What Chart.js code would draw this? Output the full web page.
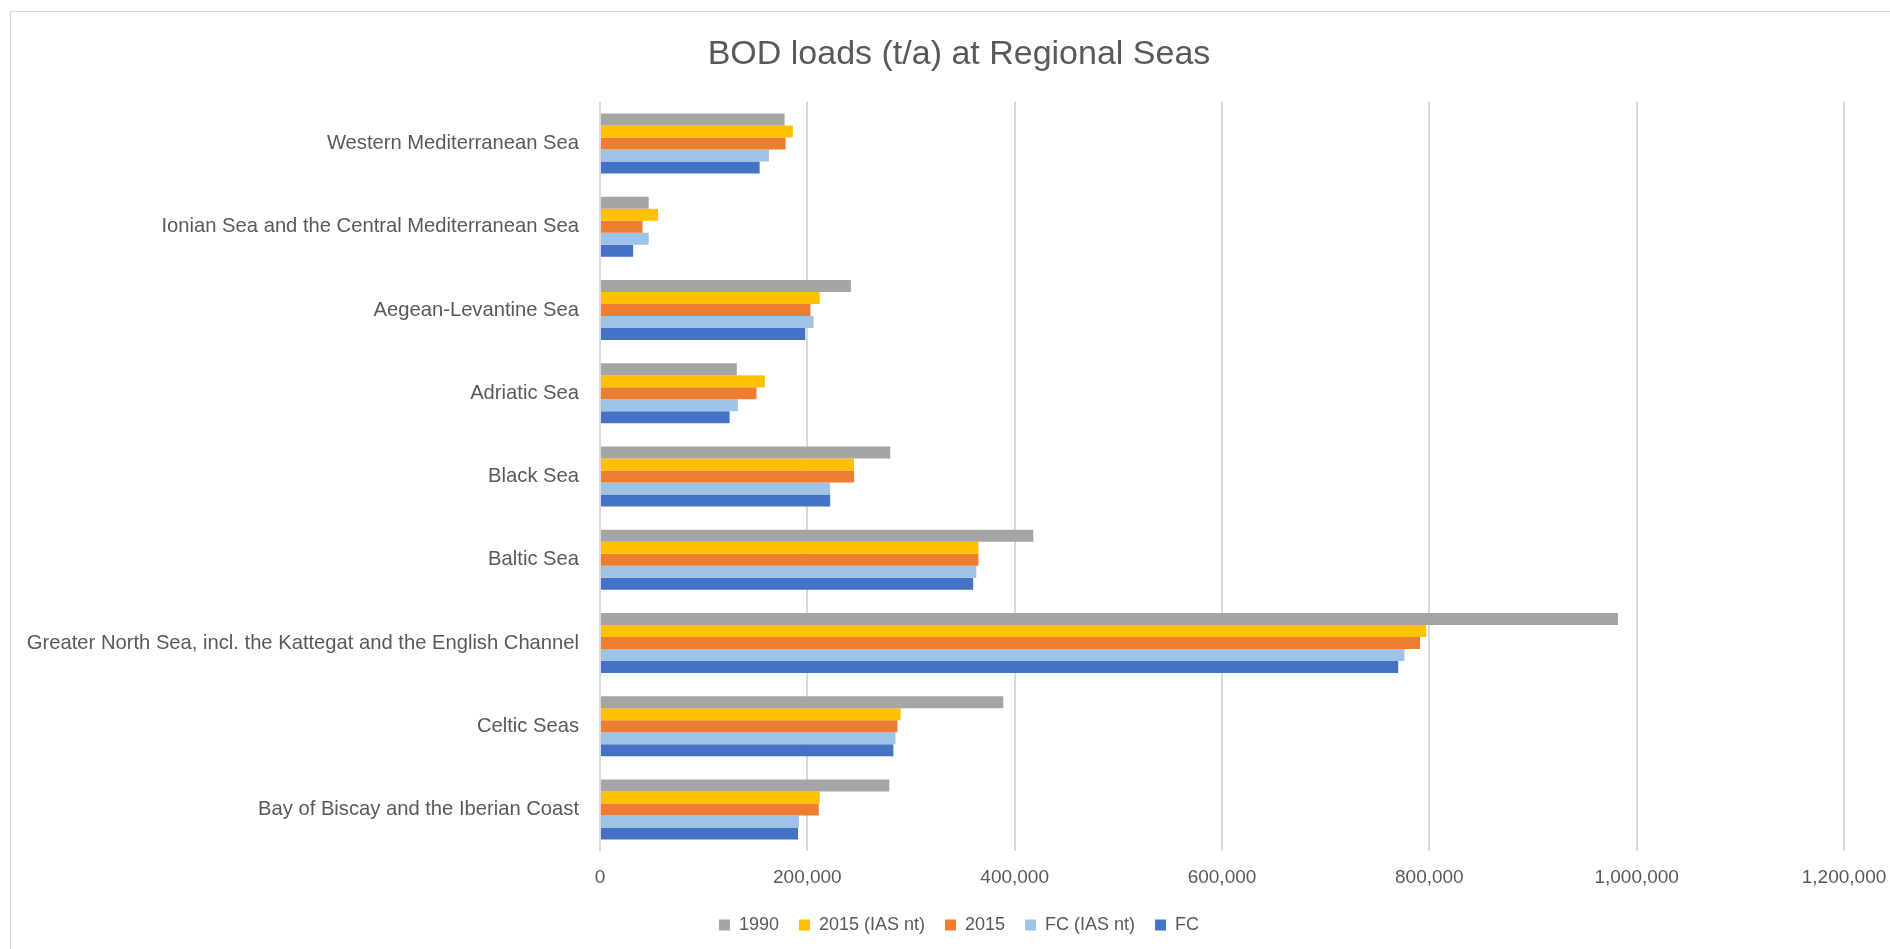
<!DOCTYPE html>
<html>
<head>
<meta charset="utf-8">
<title>BOD loads (t/a) at Regional Seas</title>
<script src="https://cdn.jsdelivr.net/npm/chart.js@4.4.0/dist/chart.umd.min.js"></script>
<style>
    html, body { margin: 0; padding: 0; background: #ffffff; overflow: hidden; }
    #frame {
        position: absolute;
        left: 10px;
        top: 11px;
        width: 1910px;
        height: 970px;
        border: 1.5px solid #d9d9d9;
        box-shadow: 0 1px 2px rgba(0, 0, 0, 0.08);
    }
    #bod-chart { position: absolute; left: 0; top: 0; }
</style>
</head>
<body>
<div id="frame">
    <canvas id="bod-chart" width="1894" height="952"></canvas>
</div>
<script>
// regions, top to bottom as in the original chart
const seas = [
    "Western Mediterranean Sea",
    "Ionian Sea and the Central Mediterranean Sea",
    "Aegean-Levantine Sea",
    "Adriatic Sea",
    "Black Sea",
    "Baltic Sea",
    "Greater North Sea, incl. the Kattegat and the English Channel",
    "Celtic Seas",
    "Bay of Biscay and the Iberian Coast"
];

// BOD loads, t/a
const load_1990 = [178000, 47000, 242000, 132000, 280000, 418000, 982000, 389000, 279000];
const load_2015_ias = [186000, 56000, 212000, 159000, 245000, 365000, 797000, 290000, 212000];
const load_2015 = [179000, 41000, 203000, 151000, 245000, 365000, 791000, 287000, 211000];
const load_fc_ias = [163000, 47000, 206000, 133000, 222000, 363000, 776000, 285000, 192000];
const load_fc = [154000, 32000, 198000, 125000, 222000, 360000, 770000, 283000, 191000];

const x_ticks = [0, 200000, 400000, 600000, 800000, 1000000, 1200000];

const text_color = "#595959";
const font_family = "'Liberation Sans', Arial, sans-serif";

function series(label, data, color) {
    return {
        label: label,
        data: data,
        backgroundColor: color,
        borderWidth: 0,
        barPercentage: 1.0,
        categoryPercentage: 0.72
    };
}

let ctx = document.getElementById("bod-chart").getContext("2d");
let chart = new Chart(ctx, {
    type: "bar",
    data: {
        labels: seas,
        datasets: [
            series("1990", load_1990, "#a5a5a5"),
            series("2015 (IAS nt)", load_2015_ias, "#ffc000"),
            series("2015", load_2015, "#ed7d31"),
            series("FC (IAS nt)", load_fc_ias, "#9dc3e6"),
            series("FC", load_fc, "#4472c4")
        ]
    },
    options: {
        indexAxis: "y",
        responsive: false,
        animation: false,
        layout: {
            padding: { left: 11, right: 9, top: 0, bottom: 20 }
        },
        plugins: {
            title: {
                display: true,
                text: "BOD loads (t/a) at Regional Seas",
                color: text_color,
                font: { family: font_family, size: 34, weight: "normal" },
                padding: { top: 22, bottom: 27 }
            },
            legend: {
                position: "bottom",
                labels: {
                    color: text_color,
                    font: { family: font_family, size: 18 },
                    boxWidth: 11,
                    boxHeight: 11,
                    padding: 20
                }
            },
            tooltip: { enabled: false }
        },
        scales: {
            x: {
                min: 0,
                max: 1200000,
                afterBuildTicks: function(scale) {
                    scale.ticks = x_ticks.map(function(v) { return { value: v }; });
                },
                afterFit: function(scale) { scale.height = scale.height - 8; },
                ticks: {
                    color: text_color,
                    font: { family: font_family, size: 19 },
                    padding: 15,
                    maxRotation: 0,
                    callback: function(v) { return Number(v).toLocaleString("en-US"); }
                },
                grid: { color: "#d9d9d9", lineWidth: 2, drawTicks: false },
                border: { display: false }
            },
            y: {
                afterFit: function(scale) { scale.width = 578; },
                ticks: {
                    color: text_color,
                    font: { family: font_family, size: 20.2 },
                    padding: 21,
                    autoSkip: false
                },
                grid: { display: false, drawTicks: false },
                border: { display: false }
            },
            // empty strip on the right, room for the last tick label
            y_right: {
                type: "category",
                position: "right",
                afterFit: function(scale) { scale.width = 52; },
                ticks: { display: false },
                grid: { display: false, drawTicks: false },
                border: { display: false }
            }
        }
    }
});
</script>
</body>
</html>
